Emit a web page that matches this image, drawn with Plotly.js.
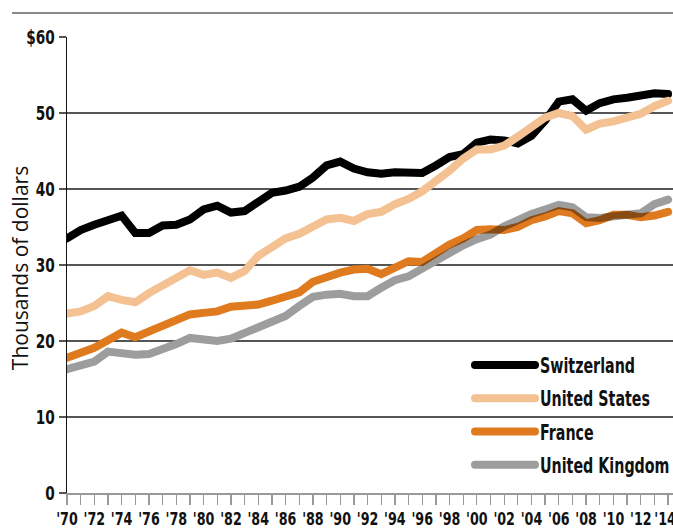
<!DOCTYPE html>
<html>
<head>
<meta charset="utf-8">
<script src="https://cdn.plot.ly/plotly-3.0.1.min.js"></script>
<style>
html,body{margin:0;padding:0;background:#fff;}
#wrap{position:relative;width:673px;height:529px;}
#chart{width:673px;height:529px;}
#rule{position:absolute;left:12px;right:0;top:12px;height:2px;background:#8a8a8a;}
.scatterlayer .js-line{stroke-linecap:round;}
.legendlines path{stroke-linecap:round;}
.scatterlayer .trace:nth-child(4) .js-line{mix-blend-mode:multiply;}
</style>
</head>
<body>
<div id="wrap"><div id="chart"></div><div id="rule"></div></div>
<script>
const years = [];
for (let y = 1970; y <= 2014; y++) years.push(y);

const switzerland = [33.5,34.6,35.3,35.9,36.5,34.2,34.2,35.2,35.3,36.0,
  37.3,37.8,36.9,37.1,38.3,39.5,39.8,40.3,41.5,43.1,
  43.6,42.7,42.2,42.0,42.2,42.2,42.1,43.1,44.2,44.6,
  46.1,46.5,46.4,46.0,47.0,49.0,51.5,51.8,50.3,51.3,
  51.8,52.0,52.3,52.6,52.5];
const unitedStates = [23.6,23.9,24.6,25.9,25.4,25.1,26.3,27.4,28.4,29.3,
  28.7,29.0,28.3,29.2,31.2,32.4,33.5,34.1,35.1,36.0,
  36.2,35.8,36.7,37.0,38.0,38.7,39.7,41.0,42.4,44.0,
  45.2,45.2,45.7,46.9,48.3,49.4,50.0,49.6,47.8,48.6,
  48.9,49.3,49.9,50.9,51.6];
const france = [17.8,18.4,19.1,20.1,21.1,20.5,21.2,22.0,22.8,23.5,
  23.7,23.9,24.5,24.7,24.8,25.3,25.9,26.4,27.8,28.5,
  29.0,29.4,29.5,28.8,29.8,30.5,30.4,31.6,32.7,33.5,
  34.6,34.7,34.6,35.0,35.9,36.4,37.1,36.8,35.5,35.9,
  36.6,36.6,36.3,36.5,37.0];
const unitedKingdom = [16.3,16.8,17.3,18.6,18.4,18.2,18.3,18.9,19.6,20.4,
  20.2,20.0,20.3,21.0,21.7,22.5,23.3,24.6,25.8,26.1,
  26.2,25.9,25.9,27.0,28.0,28.5,29.6,30.6,31.6,32.6,
  33.4,34.0,35.1,36.0,36.7,37.3,37.9,37.6,36.3,36.2,
  36.5,36.6,36.8,38.0,38.6];

const seriesNames = ['Switzerland','United States','France','United Kingdom'];
const seriesColors = ['#000000','#f4c192','#df7a1f','#9d9d9d'];
const seriesData = [switzerland, unitedStates, france, unitedKingdom];

const yTickVals = [0,10,20,30,40,50,60];
const yTickText = ['0','10','20','30','40','50','$60'];
const xTickVals = years;
const xTickText = years.map(y => (y % 2 === 0) ? "'" + String(y).slice(2) : '');
const yTitle = 'Thousands of dollars';

const traces = seriesData.map((d, i) => ({
  x: years, y: d, type: 'scatter', mode: 'lines', name: seriesNames[i],
  legendgroup: 'g' + i,
  line: {color: seriesColors[i], width: 8, shape: 'linear'},
  hoverinfo: 'skip'
}));

const boldFont = 'DejaVu Sans Condensed, DejaVu Sans, sans-serif';

const layout = {
  width: 673, height: 529,
  margin: {l: 67, r: 0, t: 37, b: 36, autoexpand: false},
  paper_bgcolor: '#fff', plot_bgcolor: '#fff',
  showlegend: true,
  legend: {
    x: 0.665, xanchor: 'left', y: 0.325, yanchor: 'top',
    bgcolor: 'rgba(0,0,0,0)', borderwidth: 0,
    font: {family: boldFont, size: 21, color: '#111', weight: 'bold'},
    itemwidth: 60, tracegroupgap: 3, traceorder: 'grouped'
  },
  xaxis: {
    range: [1970, 2014.36], tickmode: 'array', tickvals: xTickVals, ticktext: xTickText,
    ticks: 'outside', ticklen: 10, tickwidth: 1.3, tickcolor: '#999',
    showline: true, linecolor: '#999', linewidth: 1.5,
    showgrid: false, zeroline: false, tickangle: 0, ticklabeloverflow: 'allow',
    tickfont: {family: boldFont, size: 17, color: '#111', weight: 'bold'}
  },
  yaxis: {
    range: [0, 60], tickmode: 'array', tickvals: yTickVals, ticktext: yTickText,
    ticks: 'outside', ticklen: 7, tickwidth: 1.3, tickcolor: '#555',
    showline: true, linecolor: '#111', linewidth: 1.5,
    showgrid: true, gridcolor: '#555', gridwidth: 1.3, zeroline: false,
    tickfont: {family: boldFont, size: 19, color: '#111', weight: 'bold'}
  },
  annotations: [
    {text: yTitle, xref: 'paper', yref: 'paper', x: -0.0776, y: 0.493,
     xanchor: 'center', yanchor: 'middle', textangle: -90, showarrow: false,
     font: {family: 'Open Sans, sans-serif', size: 21, color: '#111'}}
  ],
  shapes: [
    {type: 'rect', xref: 'paper', yref: 'paper', x0: 0.640, x1: 1.0, y0: 0.03, y1: 0.31,
     fillcolor: '#fff', line: {width: 0}, layer: 'between'}
  ]
};

function condense(selector, factor) {
  document.querySelectorAll(selector).forEach(t => {
    const L = t.getComputedTextLength();
    if (L > 0) {
      t.setAttribute('textLength', (L * factor).toFixed(2));
      t.setAttribute('lengthAdjust', 'spacingAndGlyphs');
    }
  });
}

Plotly.newPlot('chart', traces, layout, {displayModeBar: false, staticPlot: true}).then(() => {
  condense('.ytick text', 0.8);
  condense('.xtick text', 0.83);
  condense('.legendtext', 0.755);
  document.querySelectorAll('.xtick text').forEach(t => {
    if (t.textContent === "'14") t.setAttribute('dx', '-3');
  });
});
</script>
</body>
</html>
